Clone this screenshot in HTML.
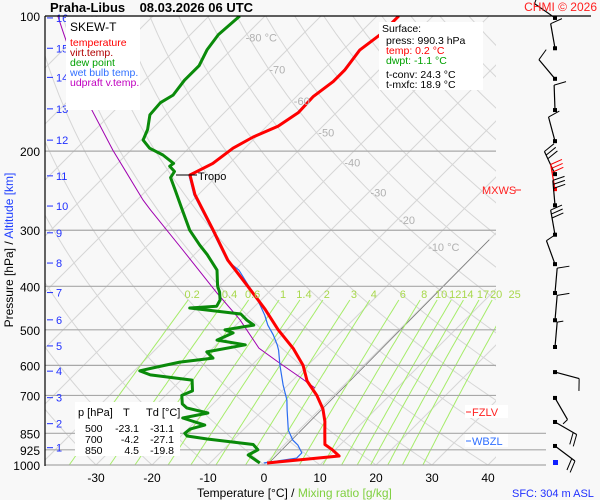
<!DOCTYPE html>
<html><head><meta charset="utf-8">
<style>
html,body{margin:0;padding:0;background:#f8f8f8;}
svg{display:block;font-family:"Liberation Sans",sans-serif;}
</style></head>
<body>
<svg id="chart" width="600" height="500" viewBox="0 0 600 500">
<defs><clipPath id="plotclip"><rect x="45" y="16" width="451" height="449"/></clipPath></defs>
<rect x="0" y="0" width="600" height="500" fill="#f8f8f8"/>
<g id="grid" clip-path="url(#plotclip)"></g>
<g id="plines"></g>
<g id="series" clip-path="url(#plotclip)"></g>
<g id="labels"></g>
<g id="barbs"></g>

<text x="50" y="12" font-size="13" font-weight="bold" fill="#000">Praha-Libus&#160;&#160;&#160;&#160;08.03.2026 06 UTC</text>
<text x="597" y="11" font-size="12" fill="#ff2020" text-anchor="end">CHMI © 2026</text>
<line x1="45" y1="16" x2="591" y2="16" stroke="#000" stroke-width="1.2"/>
<line x1="45" y1="16" x2="45" y2="466" stroke="#000" stroke-width="1.2"/>

<g>
<rect x="66" y="17" width="74" height="93" fill="#fff"/>
<text x="70" y="31" font-size="12" fill="#000">SKEW-T</text>
<text x="70" y="46" font-size="10.5" fill="#ff0000">temperature</text>
<text x="70" y="56" font-size="10.5" fill="#b00000">virt.temp.</text>
<text x="70" y="66" font-size="10.5" fill="#00a000">dew point</text>
<text x="70" y="76" font-size="10.5" fill="#3070ff">wet bulb temp.</text>
<text x="70" y="86" font-size="10.5" fill="#c000c0">udpraft v.temp.</text>
</g>

<g>
<rect x="379" y="22" width="104" height="68" fill="#fff"/>
<text x="382" y="32" font-size="10.5" fill="#000">Surface:</text>
<text x="386" y="44" font-size="10.5" fill="#000">press: 990.3 hPa</text>
<text x="386" y="54" font-size="10.5" fill="#ff0000">temp: 0.2 °C</text>
<text x="386" y="64" font-size="10.5" fill="#00a000">dwpt: -1.1 °C</text>
<text x="386" y="78" font-size="10.5" fill="#000">t-conv: 24.3 °C</text>
<text x="386" y="88" font-size="10.5" fill="#000">t-mxfc: 18.9 °C</text>
</g>

<g>
<rect x="75" y="402" width="105" height="54" fill="#fff"/>
<text x="78" y="416" font-size="11" fill="#000">p [hPa]</text>
<text x="123" y="416" font-size="11" fill="#000">T</text>
<text x="146" y="416" font-size="11" fill="#000">Td [°C]</text>
<text x="85" y="432" font-size="10.5" fill="#000">500</text>
<text x="139" y="432" font-size="10.5" fill="#000" text-anchor="end">-23.1</text>
<text x="174" y="432" font-size="10.5" fill="#000" text-anchor="end">-31.1</text>
<text x="85" y="443" font-size="10.5" fill="#000">700</text>
<text x="139" y="443" font-size="10.5" fill="#000" text-anchor="end">-4.2</text>
<text x="174" y="443" font-size="10.5" fill="#000" text-anchor="end">-27.1</text>
<text x="85" y="454" font-size="10.5" fill="#000">850</text>
<text x="139" y="454" font-size="10.5" fill="#000" text-anchor="end">4.5</text>
<text x="174" y="454" font-size="10.5" fill="#000" text-anchor="end">-19.8</text>
</g>

<g>
<line x1="176" y1="175" x2="197" y2="175" stroke="#000" stroke-width="1"/>
<text x="198" y="180" font-size="11" fill="#000">Tropo</text>
<text x="482" y="194" font-size="11" fill="#ff2020">MXWS</text>
<line x1="515" y1="190" x2="521" y2="190" stroke="#ff2020"/>
<rect x="465" y="405" width="43" height="13" fill="#fff"/>
<line x1="466" y1="412" x2="471" y2="412" stroke="#ff2020"/>
<text x="472" y="416" font-size="11" fill="#ff2020">FZLV</text>
<rect x="465" y="434" width="43" height="13" fill="#fff"/>
<line x1="466" y1="441" x2="471" y2="441" stroke="#3070ff"/>
<text x="472" y="445" font-size="11" fill="#3070ff">WBZL</text>
</g>

<text transform="translate(13,250) rotate(-90)" font-size="12" text-anchor="middle"><tspan fill="#000">Pressure [hPa]  /  </tspan><tspan fill="#2040ff">Altitude [km]</tspan></text>
<text x="197" y="497" font-size="12"><tspan fill="#000">Temperature [°C]  /  </tspan><tspan fill="#80d040">Mixing ratio [g/kg]</tspan></text>
<text x="512" y="497" font-size="11" fill="#2030ff">SFC: 304 m ASL</text>
</svg>
<script>
// ---- data ----
const pressureTicks = [100,200,300,400,500,600,700,850,925,1000];
const tempTicks = [-30,-20,-10,0,10,20,30,40];
const isoLabelTemps = [-80,-70,-60,-50,-40,-30,-20,-10];
const isoLabelPres = [111,131,154,181,211,246,283,325];
const kmLevels = [16,15,14,13,12,11,10,9,8,7,6,5,4,3,2,1];
const kmPres = [101,118,137,161,189,227,265,304,355,413,475,543,618,708,809,915];
const mixRatios = [0.2,0.4,0.6,1,1.4,2,3,4,6,8,10,12,14,17,20,25];

const tempP = [990,955,925,900,850,800,750,700,650,600,550,500,450,400,350,300,250,226,213,197,186,176,164,151,140,132,119,110,100];
const tempT = [0.2,11.8,9.5,7.2,5.2,3.1,0.5,-3.0,-7.3,-10.8,-15.6,-21.6,-27.6,-34.8,-43,-51,-60.6,-65,-63,-62.1,-60.5,-58,-56.8,-57,-56.1,-56.1,-57,-56.1,-56.1];

const dewP = [990,950,925,900,875,862,850,832,815,786,766,746,731,700,684,647,630,617,605,590,578,560,540,527,508,500,488,476,461,447,443,429,412,400,368,340,324,300,270,244,229,222,216,213,204,197,189,179,166,156,150,139,129,119,110,100];
const dewT = [-1.1,-4.6,-3.8,-5.6,-14.8,-18.9,-19.8,-19.6,-17.7,-22.9,-19.3,-24,-25.5,-27.1,-26,-28,-36.4,-39,-36.6,-33.4,-28.2,-30.4,-24.8,-30.7,-29.1,-31.1,-26.8,-28.9,-31.1,-41.3,-36.8,-37.3,-38.8,-40.2,-43.2,-47.7,-50.7,-55.2,-60.2,-65,-68,-68.4,-70.2,-70,-73.4,-77,-79.6,-80.7,-82.9,-83.2,-82.3,-82.9,-82.9,-84.3,-85,-84.5];

const wetP = [990,965,940,903,880,836,754,717,663,599,555,540,513,488,464,440,418,397,368,350,300,250,226,213,197,186,176,164,151,140,132,119,110,100];
const wetT = [-0.4,4.6,4.6,2.5,0.7,-1.9,-5.7,-7.5,-10.9,-15,-17.9,-19.1,-21.6,-24.3,-26.6,-29.3,-32,-35,-39.3,-43.2,-51.2,-60.8,-65.2,-63.2,-62.3,-60.7,-58.2,-57,-57.2,-56.3,-56.3,-57.2,-56.3,-56.3];

const parcelP = [674,637,593,549,475,414,332,270,257,199,154,109,100];
const parcelT = [-4.6,-9.3,-15.4,-21.8,-30.2,-39.1,-52.9,-65.9,-68.9,-83.2,-96.8,-113,-117];

const barbP = [101,118,138,162,190,225,243,264,307,357,414,476,546,621,709,802,907];
const barbDir = [305,350,320,358,345,335,350,355,350,340,5,5,5,105,150,120,127];
const barbSpd = [10,10,10,10,10,30,30,30,30,10,10,10,5,10,5,20,20];
const barbRed = [0,0,0,0,0,0,1,0,0,0,0,0,0,0,0,0,0];

// ---- axes ----
function Y(p){ return 465 - 195*Math.log(1000/p); }
function X(t,p){ return 264 + 5.6*t + (465 - Y(p)); }
const NS='http://www.w3.org/2000/svg';
function mk(tag, attrs, parent){ const e=document.createElementNS(NS,tag); for(const k in attrs) e.setAttribute(k,attrs[k]); parent.appendChild(e); return e; }
function ptsStr(P,T){ return P.map((p,i)=>X(T[i],p).toFixed(1)+','+Y(p).toFixed(1)).join(' '); }

const grid=document.getElementById('grid');
for(let t=-140;t<=40;t+=10){
  const l=mk('line',{x1:X(t,1000),y1:Y(1000),x2:X(t,100),y2:Y(100),stroke:'#d6d6d6','stroke-width':1},grid);
  
  
}
for(let th=-40;th<=230;th+=10){
  const P=[],T=[];
  for(let p=1000;p>=100;p-=10){ P.push(p); T.push((th+273.15)*Math.pow(p/1000,0.2857)-273.15); }
  const pl=mk('polyline',{points:ptsStr(P,T),fill:'none',stroke:'#d6d6d6','stroke-width':1},grid);
  
  
}
const z=mk('line',{x1:X(0,1000),y1:Y(1000)+3,x2:X(0,315),y2:Y(315),stroke:'#777','stroke-width':0.8},grid);


function tdFromW(w,p){ const e=w*p/(622+w); const a=Math.log(e/6.112); return 243.5*a/(17.67-a); }
const labelsG=document.getElementById('labels');
mixRatios.forEach(w=>{
  const P=[],T=[];
  for(let p=1000;p>=429;p-=10){ P.push(p); T.push(tdFromW(w,p)); }
  P.push(429); T.push(tdFromW(w,429));
  const pl=mk('polyline',{points:ptsStr(P,T),fill:'none',stroke:'#a6ec6a','stroke-width':1},grid);
  
  
  const tx=mk('text',{x:X(tdFromW(w,429),429)+4,y:298,'font-size':11,fill:'#a8d84c','text-anchor':'middle'},labelsG);
  tx.textContent=String(w);
  
  
});
const pl=document.getElementById('plines');
pressureTicks.forEach(p=>{
  if(p>100){
    const l=mk('line',{x1:45,y1:Y(p),x2:(p>=850?546:496),y2:Y(p),stroke:'#a8a8a8','stroke-width':1.2},pl);
    
    
  }
  const t=mk('text',{x:40,y:Y(p)+5,'font-size':12,fill:'#000','text-anchor':'end'},labelsG);
  t.textContent=String(p);
  
  
});
tempTicks.forEach(tt=>{
  const t=mk('text',{x:X(tt,1000),y:482,'font-size':12,fill:'#000','text-anchor':'middle'},labelsG);
  t.textContent=String(tt);
  
  
});
isoLabelTemps.forEach((tt,i)=>{
  const p=isoLabelPres[i];
  const t=mk('text',{x:X(tt,p)+1,y:Y(p)+5,'font-size':11,fill:'#b0b0b0'},labelsG);
  t.textContent=String(tt)+((tt===-80||tt===-10)?' °C':'');
  
  
});
kmLevels.forEach((k,i)=>{
  const y=Y(kmPres[i]);
  const l=mk('line',{x1:47,y1:y,x2:53,y2:y,stroke:'#2030ff','stroke-width':1},labelsG);
  
  
  const t=mk('text',{x:56,y:y+4,'font-size':11,fill:'#2030ff'},labelsG);
  t.textContent=String(k);
  
  
});
const S=document.getElementById('series');
const sp=mk('polyline',{points:ptsStr(parcelP,parcelT),fill:'none',stroke:'#a000b0','stroke-width':1},S);


const sd=mk('polyline',{points:ptsStr(dewP,dewT),fill:'none',stroke:'#0a8a0a','stroke-width':3,'stroke-linejoin':'round'},S);


const sw=mk('polyline',{points:ptsStr(wetP,wetT),fill:'none',stroke:'#2a6cf0','stroke-width':1.2},S);


const st=mk('polyline',{points:ptsStr(tempP,tempT),fill:'none',stroke:'#ff0000','stroke-width':3,'stroke-linejoin':'round'},S);


const B=document.getElementById('barbs');
barbP.forEach((p,i)=>{
  const col=barbRed[i]?'#ff0000':'#000';
  const x0=555,y0=Y(p),d=barbDir[i]*Math.PI/180,L=25;
  const dx=Math.sin(d),dy=-Math.cos(d);
  const tx=x0+dx*L,ty=y0+dy*L;
  const g=mk('g',{},B);
  
  
  mk('line',{x1:x0,y1:y0,x2:tx,y2:ty,stroke:col,'stroke-width':1.2},g);
  mk('rect',{x:x0-2,y:y0-2,width:4,height:4,fill:col},g);
  const fx=Math.sin(d+Math.PI/2),fy=-Math.cos(d+Math.PI/2);
  let s=barbSpd[i],k=0;
  while(s>=10){ const bx=tx-dx*4*k,by=ty-dy*4*k; mk('line',{x1:bx,y1:by,x2:bx+fx*12+dx*3,y2:by+fy*12+dy*3,stroke:col,'stroke-width':1},g); s-=10;k++; }
  if(s>=5){ const bx=tx-dx*4*k,by=ty-dy*4*k; mk('line',{x1:bx,y1:by,x2:bx+fx*6+dx*1.5,y2:by+fy*6+dy*1.5,stroke:col,'stroke-width':1},g); }
});
const sq=mk('rect',{x:553,y:460,width:5,height:5,fill:'#1020ff'},B);


</script>
</body></html>
